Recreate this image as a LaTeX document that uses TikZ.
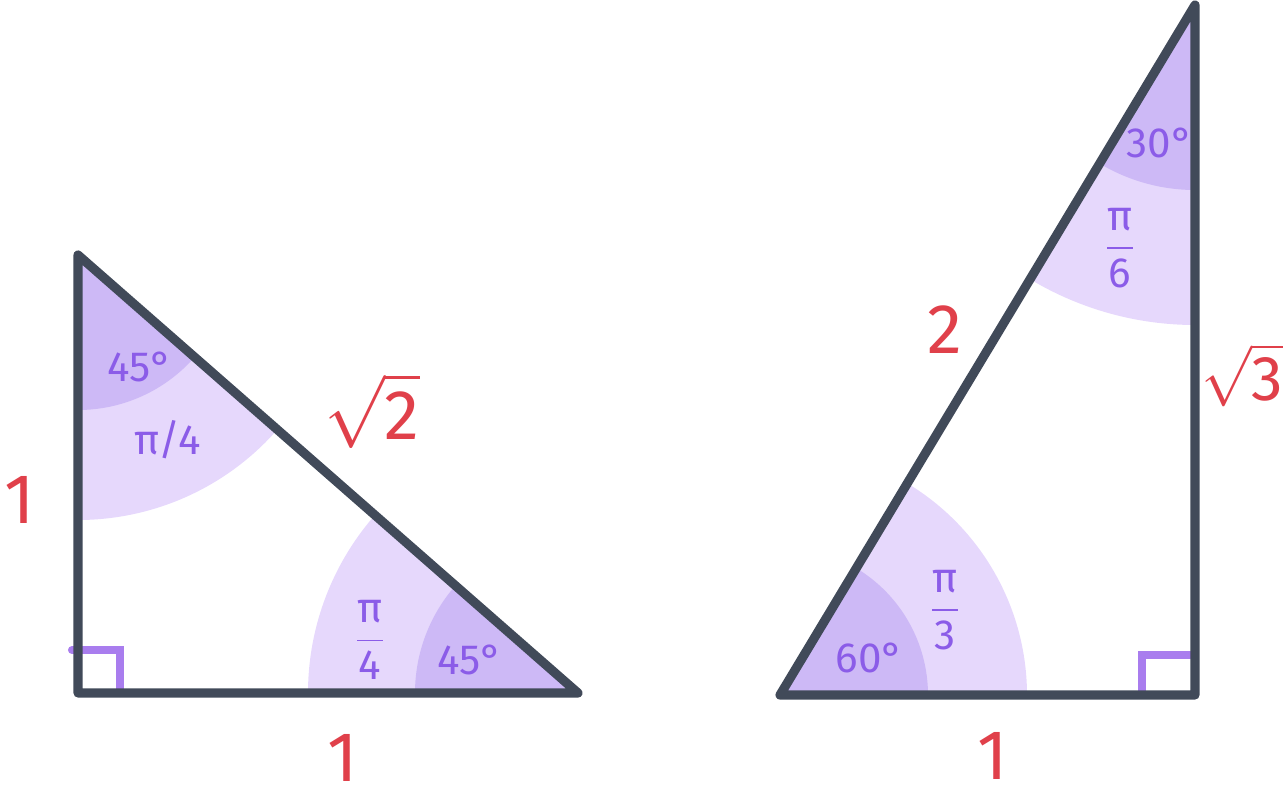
\documentclass[tikz,border=0pt]{standalone}
\usepackage{amsmath}
\usepackage{fontspec}
\setmainfont{Fira Sans}
\usetikzlibrary{positioning}
\definecolor{sidegray}{HTML}{414A59}
\definecolor{lightangle}{HTML}{E6D8FC}
\definecolor{darkangle}{HTML}{CDB9F6}
\definecolor{anglelabel}{HTML}{8B5CE8}
\definecolor{rightmark}{HTML}{A97DEE}
\definecolor{sidelabel}{HTML}{E0404A}
\tikzset{
side/.style={draw=sidegray, line width=2.6pt, line join=round, line cap=round}, % the triangle edges
light/.style={fill=lightangle}, % outer angle patch
darkpatch/.style={fill=darkangle}, % inner angle patch
square/.style={draw=rightmark, line width=2.3pt, line cap=round}, % right angle mark
len/.style={text=sidelabel, inner sep=1pt, font=\fontsize{20}{24}\selectfont}, % side lengths
ang/.style={text=anglelabel, font=\fontsize{12}{14}\selectfont}, % angle values
}

\begin{document}
\begin{tikzpicture}[x=0.01cm, y=0.01cm]
            \useasboundingbox (0,0) rectangle (1285,796);
            % 45-45-90 triangle
            \coordinate (A) at (78,541);
            \coordinate (B) at (78,103);
            \coordinate (C) at (578,103);
            % 30-60-90 triangle
            \coordinate (D) at (780,101);
            \coordinate (E) at (1195,101);
            \coordinate (F) at (1195,791);

            \fill[light] (A) -- ++(270:265) arc[start angle=270, end angle=318.8, radius=265] -- cycle;
            \fill[darkpatch] (A) -- ++(270:155) arc[start angle=270, end angle=318.8, radius=155] -- cycle;
            \fill[light] (C) -- ++(180:270) arc[start angle=180, end angle=138.8, radius=270] -- cycle;
            \fill[darkpatch] (C) -- ++(180:163) arc[start angle=180, end angle=138.8, radius=163] -- cycle;
            \fill[light] (D) -- ++(0:247) arc[start angle=0, end angle=59, radius=247] -- cycle;
            \fill[darkpatch] (D) -- ++(0:148) arc[start angle=0, end angle=59, radius=148] -- cycle;
            \fill[light] (F) -- ++(270:320) arc[start angle=270, end angle=239, radius=320] -- cycle;
            \fill[darkpatch] (F) -- ++(270:185) arc[start angle=270, end angle=239, radius=185] -- cycle;

            \draw[square] (72,146) -- (120,146) -- (120,103);
            \draw[square] (1142,103) -- (1142,141) -- (1190,141);

            \draw[side] (A) -- (B) -- (C) -- cycle;
            \draw[side] (D) -- (E) -- (F) -- cycle;

            \node[len] (ab) at (20,296) {1};
            \node[len] (bc) at (343,38) {1};
            \node[len] (ca) at (372,385) {$\sqrt{\text{2}}$};
            \node[len] (de) at (993,40) {1};
            \node[len] (df) at (945,466) {2};
            \node[len, inner sep=0pt, anchor=east, font=\fontsize{18}{22}\selectfont] (ef) at (1284,421) {$\sqrt{\text{3}}$};

            \node[ang] (a1) at (140,429) {45°};
            \node[ang] (a2) at (168,356) {π/4};
            \node[ang] (c1) at (470,136) {45°};
            \node[ang] (c2) at (370,156) {$\dfrac{\text{π}}{\text{4}}$};
            \node[ang] (d1) at (870,138) {60°};
            \node[ang] (d2) at (945,186) {$\dfrac{\text{π}}{\text{3}}$};
            \node[ang] (f1) at (1160,653) {30°};
            \node[ang] (f2) at (1120,548) {$\dfrac{\text{π}}{\text{6}}$};
            \end{tikzpicture}
\end{document}
